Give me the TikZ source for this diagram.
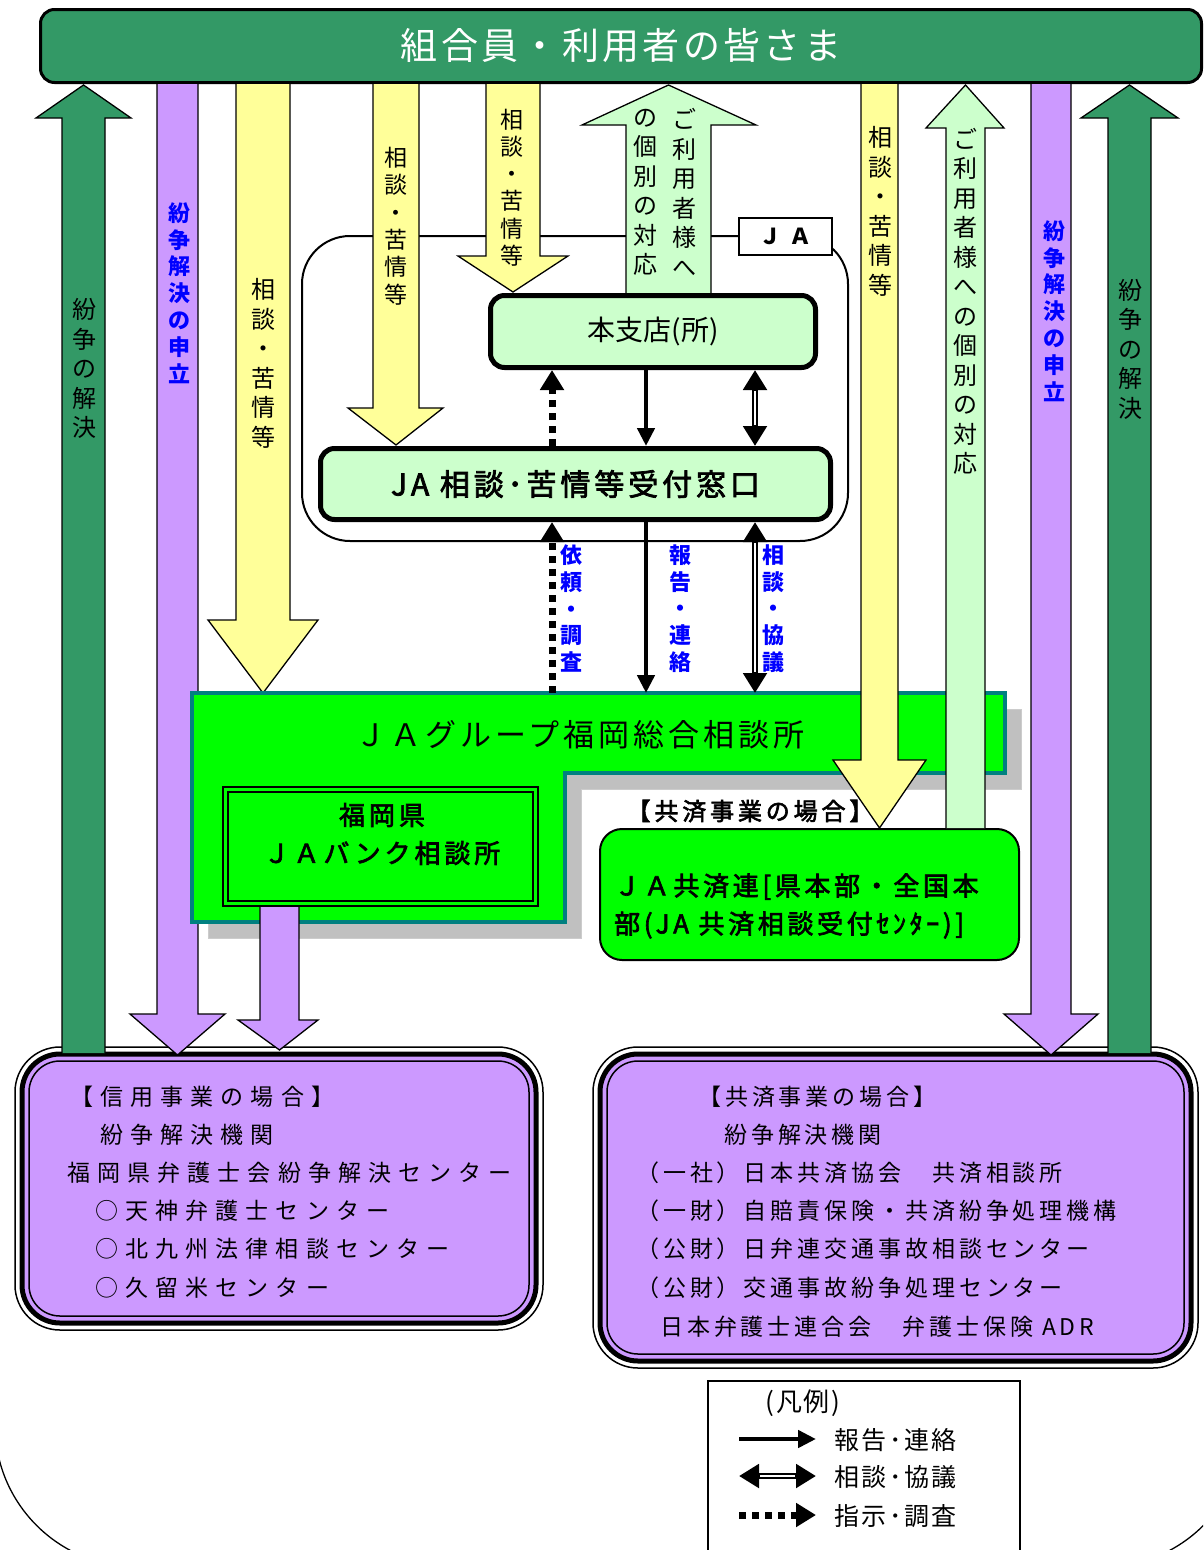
\documentclass[tikz,border=0pt]{standalone}
\usepackage{fontspec}
\setmainfont{Noto Sans CJK JP}
\usetikzlibrary{arrows.meta}
\definecolor{bgreen}{HTML}{339966}
\definecolor{ayellow}{HTML}{FFFF99}
\definecolor{lgreen}{HTML}{CCFFCC}
\definecolor{apurple}{HTML}{CC99FF}
\definecolor{vgreen}{HTML}{00FF00}
\definecolor{tealb}{HTML}{008080}
\definecolor{shgray}{HTML}{C0C0C0}
\definecolor{lblue}{HTML}{0000FF}
\newcommand{\blockarrow}[8]{%
  \fill[#1] (#2,#4) -- (#2,#5) -- (#6,#5) -- ({(#2+#3)/2},#8) -- (#7,#5) -- (#3,#5) -- (#3,#4) -- cycle;
  \draw[blockline] (#2,#4) -- (#2,#5) -- (#6,#5) -- ({(#2+#3)/2},#8) -- (#7,#5) -- (#3,#5) -- (#3,#4);}
\newcommand{\lsp}[1]{\addfontfeatures{LetterSpace=#1}}
\newcommand{\semib}[1]{\addfontfeatures{LetterSpace=#1,FakeBold=2.5}}
\tikzset{
  blockline/.style={line width=1.3pt, line join=miter},
  vtA/.style={align=center, inner sep=0pt, font=\fontsize{24}{29.5}\selectfont},
  vtB/.style={align=center, inner sep=0pt, font=\fontsize{23}{27.3}\selectfont},
  vtblue/.style={align=center, inner sep=0pt, text=lblue, font=\bfseries\fontsize{22}{26.8}\selectfont},
  mainbox/.style={draw, line width=5pt, fill=lgreen, rounded corners=14pt, inner sep=0pt},
  solidarr/.style={line width=4.5pt, -{Triangle[length=18pt,width=17pt]}},
  dotarr/.style={line width=7pt, dash pattern=on 7pt off 6pt, -{Triangle[length=20pt,width=23pt]}},
  dblouter/.style={line width=6.5pt, {Triangle[length=20pt,width=23pt]}-{Triangle[length=20pt,width=23pt]}},
  dblinner/.style={line width=2.2pt, white, shorten <=21pt, shorten >=21pt},
  boxtextL/.style={anchor=west, inner sep=0pt, font=\fontsize{23}{28}\selectfont\lsp{31}},
  boxtextR/.style={anchor=west, inner sep=0pt, font=\fontsize{23}{28}\selectfont\lsp{17}},
  legtext/.style={anchor=west, inner sep=0pt, font=\fontsize{25}{30}\selectfont\lsp{10}},
}
\begin{document}
\begin{tikzpicture}[x=1pt,y=-1pt]
\useasboundingbox (0,0) rectangle (1203,1550);
\clip (0,0) rectangle (1203,1550);

% big background outline
\draw[line width=1.3pt, rounded corners=142pt] (-5,1000) -- (-5,1567) -- (1245,1567) -- (1245,1000);

% JA outline
\draw[line width=2pt, rounded corners=48pt] (302,236) rectangle (848,541);

% bottom boxes
\draw[line width=1.5pt, rounded corners=45pt] (15,1047) rectangle (543,1330);
\draw[line width=5pt, fill=apurple, rounded corners=38pt] (22,1054) rectangle (536,1323);
\draw[line width=1.5pt, rounded corners=31pt] (29,1061) rectangle (529,1316);
\draw[line width=1.5pt, rounded corners=45pt] (593,1047) rectangle (1198,1368);
\draw[line width=5pt, fill=apurple, rounded corners=38pt] (600,1054) rectangle (1191,1361);
\draw[line width=1.5pt, rounded corners=31pt] (607,1061) rectangle (1184,1354);

% banner
\node[draw, line width=3pt, fill=bgreen, rounded corners=14pt, minimum width=1161pt, minimum height=73pt, inner sep=0pt,
      text=white, font=\fontsize{37}{44}\selectfont\lsp{9}] (banner) at (621,46) {組合員・利用者の皆さま};

% block arrows (first group)
\blockarrow{bgreen}{62}{105}{1053}{118}{36}{131}{85}
\blockarrow{apurple}{157}{198}{84}{1014}{130}{225}{1055}
\blockarrow{ayellow}{236}{290}{84}{620}{208}{318}{693}
\blockarrow{ayellow}{373}{419}{84}{408}{348}{443}{445}
\blockarrow{ayellow}{486}{540}{84}{256}{458}{568}{292}
\blockarrow{lgreen}{626}{711}{293}{125}{582}{756}{85}
\blockarrow{apurple}{1031}{1071}{84}{1014}{1004}{1098}{1055}
\blockarrow{bgreen}{1108}{1151}{1053}{118}{1081}{1178}{85}

% vertical texts
\node[vtA] (tGL) at (84,368.5) {紛\\争\\の\\解\\決};
\node[vtblue] (tPL) at (179,293) {紛\\争\\解\\決\\の\\申\\立};
\node[vtA] (tY3) at (263,363.5) {相\\談\\・\\苦\\情\\等};
\node[vtB] (tY4) at (396,226) {相\\談\\・\\苦\\情\\等};
\node[vtB] (tY5) at (512,187.5) {相\\談\\・\\苦\\情\\等};
\node[vtA] (tL6a) at (684,192.5) {ご\\利\\用\\者\\様\\へ};
\node[vtA] (tL6b) at (645,192.5) {の\\個\\別\\の\\対\\応};
\node[vtblue] (tPR) at (1054,311) {紛\\争\\解\\決\\の\\申\\立};
\node[vtA] (tGR) at (1130,349) {紛\\争\\の\\解\\決};

% JA label
\node[draw, line width=1.5pt, fill=white, minimum width=93pt, minimum height=37pt, inner sep=0pt,
      font=\bfseries\fontsize{22}{26}\selectfont\lsp{35}] (jalabel) at (785.5,236.5) {ＪＡ};

% main boxes
\node[mainbox, minimum width=325pt, minimum height=72pt, font=\fontsize{28}{34}\selectfont] (honshi) at (653,331.5) {本支店(所)};
\node[mainbox, minimum width=510pt, minimum height=71pt, font=\fontsize{30}{36}\selectfont\semib{13}] (mado) at (575.5,484) {JA 相談･苦情等受付窓口};

% sogo shadow and shape
\fill[shgray] (208,709) -- (1021,709) -- (1021,789) -- (581,789) -- (581,938) -- (208,938) -- cycle;
\draw[line width=1pt, gray!40] (208,709) -- (1021,709) -- (1021,789) -- (581,789) -- (581,938) -- (208,938) -- cycle;
\draw[line width=4pt, fill=vgreen, draw=tealb, line join=miter] (192,693) -- (1005,693) -- (1005,773) -- (565,773) -- (565,922) -- (192,922) -- cycle;
\node[minimum width=813pt, minimum height=82pt, inner sep=0pt, outer sep=0pt] (sogo) at (598.5,734) {};
\node[inner sep=0pt, font=\fontsize{31}{36}\selectfont\lsp{13}] (sogotitle) at (580,735) {ＪＡグループ福岡総合相談所};

% bank box
\node[draw, double=vgreen, double distance=3pt, line width=2pt, fill=vgreen, minimum width=310pt, minimum height=114pt,
      inner sep=0pt] (bank) at (380.5,846.5) {};
\node[inner sep=0pt, align=center, font=\fontsize{26}{38}\selectfont\semib{15}] (banktext) at (382,834) {福岡県\\ＪＡバンク相談所};
\blockarrow{apurple}{260}{299}{907}{1020}{238}{318}{1050}

% kyosai label and box
\node[inner sep=0pt, font=\fontsize{24}{28}\selectfont\semib{16}] (kylabel) at (750,811) {【共済事業の場合】};
\node[draw, line width=2pt, fill=vgreen, rounded corners=22pt, minimum width=419pt, minimum height=131pt] (kyr) at (809.5,894.5) {};
\node[anchor=west, inner sep=0pt, align=left, font=\fontsize{26}{38}\selectfont\semib{14}] (kyrtext) at (614,906) {ＪＡ共済連[県本部・全国本\\部(JA 共済相談受付ｾﾝﾀｰ)]};

% block arrows over sogo
\blockarrow{ayellow}{861}{898}{84}{760}{833}{926}{828}
\blockarrow{lgreen}{946}{985}{828}{128}{926}{1004}{85}
\node[vtA] (tY7) at (880,211.5) {相\\談\\・\\苦\\情\\等};
\node[vtA] (tL8) at (965,301.5) {ご\\利\\用\\者\\様\\へ\\の\\個\\別\\の\\対\\応};

% connectors
\coordinate (xDot) at (552,0);
\coordinate (xSol) at (646,0);
\coordinate (xDbl) at (755,0);
\draw[dotarr] (mado.north -| xDot) -- (honshi.south -| xDot);
\draw[solidarr] (honshi.south -| xSol) -- (mado.north -| xSol);
\draw[dblouter] (honshi.south -| xDbl) -- (mado.north -| xDbl);
\draw[dblinner] (honshi.south -| xDbl) -- (mado.north -| xDbl);
\draw[dotarr] (sogo.north -| xDot) -- (mado.south -| xDot);
\draw[solidarr] (mado.south -| xSol) -- (sogo.north -| xSol);
\draw[dblouter] (mado.south -| xDbl) -- (sogo.north -| xDbl);
\draw[dblinner] (mado.south -| xDbl) -- (sogo.north -| xDbl);

% blue labels
\node[vtblue] (lbA) at (571,608.5) {依\\頼\\・\\調\\査};
\node[vtblue] (lbB) at (680,608.5) {報\\告\\・\\連\\絡};
\node[vtblue] (lbC) at (773,608.5) {相\\談\\・\\協\\議};

% bottom box texts
\node[boxtextL] (s1) at (70,1097) {【信用事業の場合】};
\node[boxtextL] (s2) at (100,1135) {紛争解決機関};
\node[boxtextL] (s3) at (67,1173) {福岡県弁護士会紛争解決センター};
\node[boxtextL] (s4) at (95,1211) {○天神弁護士センター};
\node[boxtextL] (s5) at (95,1249) {○北九州法律相談センター};
\node[boxtextL] (s6) at (95,1288) {○久留米センター};
\node[boxtextR] (k1) at (698,1097) {【共済事業の場合】};
\node[boxtextR] (k2) at (724,1135) {紛争解決機関};
\node[boxtextR] (k3) at (636,1173) {（一社）日本共済協会　共済相談所};
\node[boxtextR] (k4) at (636,1211) {（一財）自賠責保険・共済紛争処理機構};
\node[boxtextR] (k5) at (636,1249) {（公財）日弁連交通事故相談センター};
\node[boxtextR] (k6) at (636,1288) {（公財）交通事故紛争処理センター};
\node[boxtextR] (k7) at (660,1327) {日本弁護士連合会　弁護士保険 ADR};

% legend
\draw[line width=1.5pt] (708,1560) -- (708,1381) -- (1020,1381) -- (1020,1560);
\node[inner sep=0pt, font=\fontsize{26}{30}\selectfont\lsp{6}] (legtitle) at (803,1403) {(凡例)};
\coordinate (lg1a) at (739,1439); \coordinate (lg1b) at (816,1439);
\coordinate (lg2a) at (739,1476); \coordinate (lg2b) at (816,1476);
\coordinate (lg3a) at (739,1515); \coordinate (lg3b) at (816,1515);
\draw[solidarr] (lg1a) -- (lg1b);
\draw[dblouter] (lg2a) -- (lg2b);
\draw[dblinner] (lg2a) -- (lg2b);
\draw[dotarr] (lg3a) -- (lg3b);
\node[legtext] (lgt1) at (834,1440) {報告･連絡};
\node[legtext] (lgt2) at (834,1477) {相談･協議};
\node[legtext] (lgt3) at (834,1516) {指示･調査};
\end{tikzpicture}
\end{document}
